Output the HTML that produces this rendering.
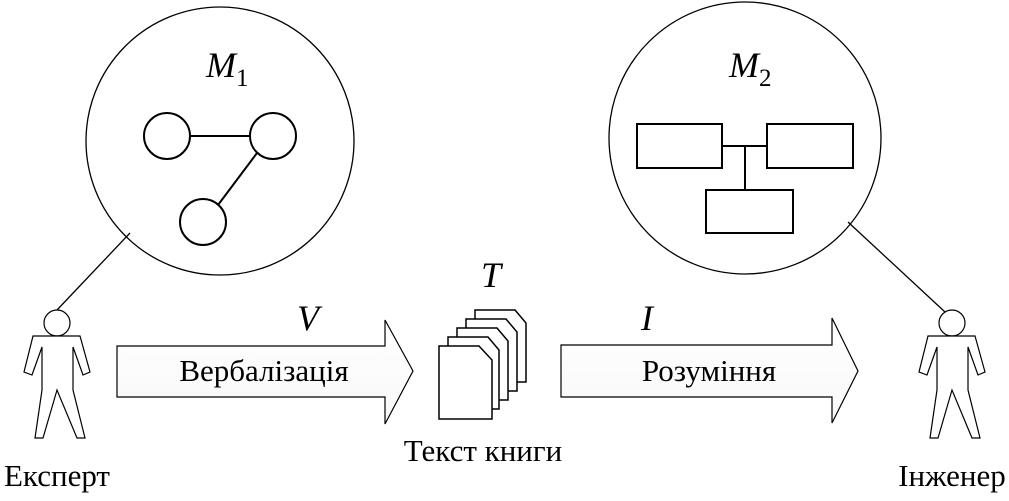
<!DOCTYPE html>
<html><head><meta charset="utf-8"><style>body{margin:0;background:#fff}</style></head><body>
<svg width="1009" height="496" viewBox="0 0 1009 496" xmlns="http://www.w3.org/2000/svg" font-family="Liberation Serif, serif">
<defs>
<linearGradient id="g" x1="0" y1="0" x2="0" y2="1"><stop offset="0" stop-color="#fff"/><stop offset="1" stop-color="#f8f8f8"/></linearGradient>
<g id="person" fill="#fff" stroke="#000" stroke-width="1.2">
<circle cx="0" cy="0" r="13"/>
<polygon points="-24,13 23,13 33,49 26,52 16,24 16,67 28,115 20,115 0,67 -14,115 -22,115 -15,67 -15,24 -25,52 -33,49"/>
</g>
</defs>
<g fill="none" stroke="#000" stroke-width="1.3">
<circle cx="220" cy="141" r="134"/>
<circle cx="745" cy="138" r="136"/>
<line x1="130" y1="233" x2="57" y2="310"/>
<line x1="848" y1="222" x2="945" y2="312"/>
<line x1="190" y1="136" x2="250" y2="136" stroke-width="2"/>
<line x1="257" y1="153" x2="218" y2="205" stroke-width="2"/>
<g stroke-width="2" fill="#fff">
<circle cx="167" cy="136" r="23"/>
<circle cx="273" cy="136" r="23"/>
<circle cx="203" cy="222" r="23"/>
<line x1="722" y1="146" x2="767" y2="146"/>
<line x1="745" y1="146" x2="745" y2="190"/>
<rect x="637" y="124" width="85" height="44"/>
<rect x="767" y="124" width="86" height="44"/>
<rect x="706" y="190" width="87" height="43"/>
</g>
</g>
<use href="#person" x="57" y="323"/>
<use href="#person" x="952" y="323"/>
<polygon points="117,346 385,346 385,320 413,371 385,424 385,397 117,397" fill="url(#g)" stroke="#000" stroke-width="1.2"/>
<polygon points="561,345 832,345 832,318 858,371 832,423 832,397 561,397" fill="url(#g)" stroke="#000" stroke-width="1.2"/>
<g fill="#fff" stroke="#000" stroke-width="1.5">
<path d="M475,310 h40 l11,13 v59 h-51 z"/>
<path d="M466,319 h40 l11,13 v59 h-51 z"/>
<path d="M457,328 h40 l11,13 v59 h-51 z"/>
<path d="M448,337 h40 l11,13 v59 h-51 z"/>
<path d="M439,346 h40 l13,14 v59 h-53 z"/>
</g>
<g font-size="31" fill="#000">
<text x="264" y="381" text-anchor="middle">Вербалізація</text>
<text x="709" y="381" text-anchor="middle">Розуміння</text>
<text x="483" y="461" text-anchor="middle">Текст книги</text>
<text x="57" y="486" text-anchor="middle">Експерт</text>
<text x="952" y="486" text-anchor="middle">Інженер</text>
</g>
<g font-size="36" font-style="italic" fill="#000">
<text x="206" y="77">M<tspan font-size="25" font-style="normal" dy="9">1</tspan></text>
<text x="729" y="77">M<tspan font-size="25" font-style="normal" dy="9">2</tspan></text>
<text x="481" y="287">T</text>
<text x="297" y="330">V</text>
<text x="641" y="330">I</text>
</g>
</svg>
</body></html>
